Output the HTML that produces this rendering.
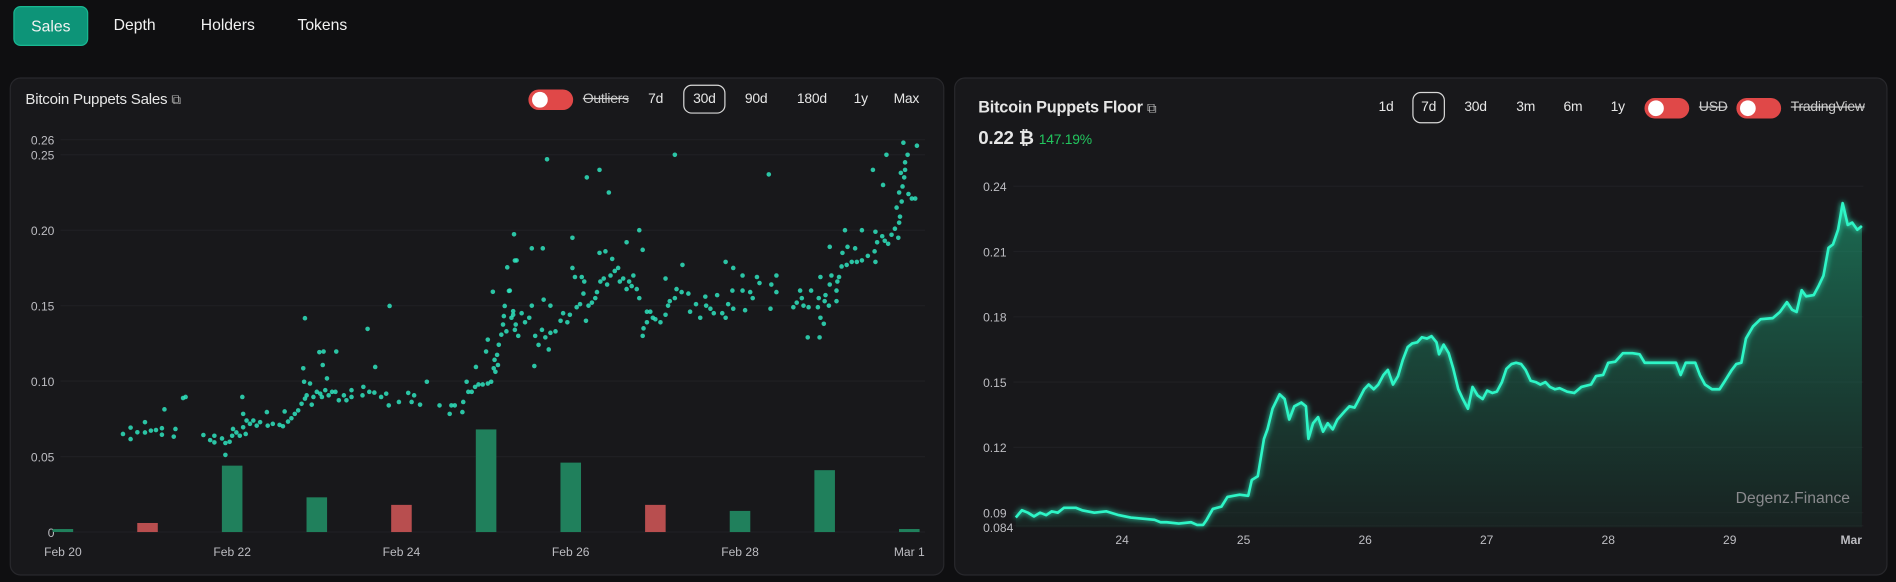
<!DOCTYPE html>
<html><head><meta charset="utf-8">
<style>
html,body{margin:0;padding:0;background:#0f0f11;overflow:hidden;width:1896px;height:582px}
#root{position:absolute;left:0;top:0;width:1568px;height:481px;transform:scale(1.20918);transform-origin:0 0;font-family:"Liberation Sans",sans-serif;color:#e8e8ea}
.abs{position:absolute}
.tab{position:absolute;top:5px;height:31px;line-height:31px;font-size:13px;color:#f2f2f2}
.panel{position:absolute;background:#18181b;border:1px solid #28282c;border-radius:9px}
.ctl{position:absolute;font-size:11.5px;color:#e6e6e6;line-height:20px;letter-spacing:-0.2px}
.toggle{position:absolute;width:37px;height:17px;border-radius:9px;background:#e04848}
.toggle::after{content:"";position:absolute;left:3px;top:2px;width:13px;height:13px;border-radius:50%;background:#fff}
.box{border:1px solid #d8d8d8;border-radius:7px;text-align:center}
svg text{font-family:"Liberation Sans",sans-serif}
</style></head><body>
<div id="root">
  <div class="tab" style="left:11px;width:60px;background:#0d9478;border:1px solid #19b892;border-radius:6px;text-align:center">Sales</div>
  <div class="tab" style="left:94px">Depth</div>
  <div class="tab" style="left:166px">Holders</div>
  <div class="tab" style="left:246px">Tokens</div>

  <div class="panel" style="left:8px;top:64px;width:771px;height:410px"></div>
  <div class="panel" style="left:789px;top:64px;width:770px;height:410px"></div>

  <div class="ctl" style="left:21px;top:72px;font-size:12.5px">Bitcoin Puppets Sales <span style="font-size:11px;color:#bbb">⧉</span></div>
  <div class="toggle" style="left:437px;top:74px"></div>
  <div class="ctl" style="left:482px;top:72px;text-decoration:line-through;color:#ccc">Outliers</div>
  <div class="ctl" style="left:536px;top:72px">7d</div>
  <div class="ctl box" style="left:565px;top:70px;width:33px;height:22px;line-height:22px">30d</div>
  <div class="ctl" style="left:616px;top:72px">90d</div>
  <div class="ctl" style="left:659px;top:72px">180d</div>
  <div class="ctl" style="left:706px;top:72px">1y</div>
  <div class="ctl" style="left:739px;top:72px">Max</div>

  <div class="ctl" style="left:809px;top:79px;font-size:13.5px;font-weight:bold">Bitcoin Puppets Floor <span style="font-size:11px;color:#bbb;font-weight:normal">⧉</span></div>
  <div class="ctl" style="left:809px;top:105px;font-size:15.5px;font-weight:bold">0.22 ₿ <span style="font-size:11.5px;color:#22c55e;font-weight:normal">147.19%</span></div>
  <div class="ctl" style="left:1140px;top:79px">1d</div>
  <div class="ctl box" style="left:1168px;top:76px;width:25px;height:24px;line-height:24px">7d</div>
  <div class="ctl" style="left:1211px;top:79px">30d</div>
  <div class="ctl" style="left:1254px;top:79px">3m</div>
  <div class="ctl" style="left:1293px;top:79px">6m</div>
  <div class="ctl" style="left:1332px;top:79px">1y</div>
  <div class="toggle" style="left:1360px;top:81px"></div>
  <div class="ctl" style="left:1405px;top:79px;text-decoration:line-through;color:#ccc">USD</div>
  <div class="toggle" style="left:1436px;top:81px"></div>
  <div class="ctl" style="left:1481px;top:79px;text-decoration:line-through;color:#ccc">TradingView</div>

  <svg id="chart" class="abs" style="left:0;top:0" width="1568" height="481">
    <defs>
      <linearGradient id="areaGrad" x1="0" y1="0" x2="0" y2="1">
        <stop offset="0" stop-color="#1fbf8a" stop-opacity="0.5"/>
        <stop offset="1" stop-color="#18332b" stop-opacity="0.4"/>
      </linearGradient>
      <filter id="glow"><feGaussianBlur stdDeviation="2.5" result="b"/><feMerge><feMergeNode in="b"/><feMergeNode in="SourceGraphic"/></feMerge></filter>
    </defs>
    <g id="left"></g>
    <g id="right"></g>
    <text x="1530" y="416" text-anchor="end" fill="#8a8a8e" font-size="13">Degenz.Finance</text>
  </svg>
</div>
<script>
// ---- Sales chart data ----
const salesTicks = [0, 0.05, 0.10, 0.15, 0.20, 0.25, 0.26];
const salesTickLabels = ["0", "0.05", "0.10", "0.15", "0.20", "0.25", "0.26"];
const dateLabels = ["Feb 20", "Feb 22", "Feb 24", "Feb 26", "Feb 28", "Mar 1"];
const dateLabelDays = [0, 2, 4, 6, 8, 10];
const barDays = [0,1,2,3,4,5,6,7,8,9,10];
const barValues = [0.002,0.006,0.044,0.023,0.018,0.068,0.046,0.018,0.014,0.041,0.002];
const barUp = [1,0,1,1,0,1,1,0,1,1,1];
const scatterDays = [0.71,0.80,0.80,0.88,0.97,0.97,1.04,1.10,1.17,1.17,1.20,1.31,1.33,1.42,1.45,
1.66,1.74,1.79,1.79,1.88,1.92,1.92,1.97,2.0,2.01,2.05,2.09,2.12,2.13,2.13,2.16,2.17,2.21,2.25,2.29,2.33,2.41,2.42,2.48,
2.56,2.6,2.62,2.66,2.7,2.74,2.78,2.82,2.84,2.85,2.86,2.86,2.88,2.92,2.94,2.96,3.0,3.03,3.04,3.06,3.07,3.08,3.1,3.12,3.14,3.18,3.22,3.23,3.26,3.32,3.35,3.41,3.41,3.55,3.54,3.6,3.62,3.68,3.69,3.76,3.82,3.85,3.86,3.97,4.08,4.12,4.15,4.22,4.3,4.45,4.57,4.59,4.63,4.72,4.73,4.77,4.79,4.83,4.87,4.88,4.91,4.96,5.0,5.02,5.02,5.06,5.08,5.09,5.1,5.11,5.13,5.14,5.15,5.18,5.2,5.21,5.22,5.24,5.25,5.27,5.3,5.32,5.33,5.34,5.35,
5.28,5.36,5.32,5.34,5.38,5.42,5.46,5.51,5.54,5.54,5.57,5.58,5.62,5.66,5.67,5.68,5.7,5.72,5.74,5.76,5.76,5.82,5.88,5.91,5.96,5.99,6.02,6.02,6.05,6.07,6.11,6.13,6.15,6.16,6.18,6.19,6.21,6.25,6.29,6.31,6.34,6.34,6.35,6.39,6.41,6.43,6.45,6.47,6.49,6.52,6.56,6.58,6.62,6.66,6.66,6.69,6.72,6.74,6.78,6.81,6.81,6.85,6.85,6.86,6.9,6.9,6.94,6.97,7.0,7.06,7.12,7.12,7.15,7.17,7.23,7.23,7.25,7.31,7.32,7.39,7.41,7.48,7.53,7.59,7.6,7.65,7.69,7.73,7.79,7.83,7.83,7.86,7.91,7.92,7.92,8.03,8.03,8.06,8.12,8.15,8.2,8.23,8.34,8.36,8.37,8.43,8.43,8.63,8.67,8.71,8.73,8.75,8.8,8.81,8.84,8.92,8.93,8.94,8.95,8.95,8.99,9.0,9.01,9.05,9.06,9.06,9.08,9.14,9.14,9.15,9.17,9.2,9.21,9.24,9.26,9.27,9.32,9.36,9.38,9.44,9.44,9.51,9.57,9.59,9.6,9.6,9.62,9.68,9.69,9.71,9.73,9.75,9.79,9.83,9.85,9.87,9.88,9.88,9.89,9.9,9.91,9.92,9.93,9.94,9.95,9.95,9.98,9.99,10.03,10.07,10.09];
const scatterPrices = [0.065,0.0692,0.0616,0.0661,0.0728,0.066,0.0672,0.0676,0.0688,0.0645,0.0813,0.0632,0.0683,0.0888,0.0895,
0.0643,0.0609,0.0638,0.0594,0.062,0.0511,0.059,0.0598,0.0638,0.0683,0.066,0.0638,0.0895,0.0783,0.0694,0.065,0.0739,0.0717,0.0739,0.0705,0.0728,0.0795,0.0705,0.0717,
0.071,0.0701,0.0799,0.0732,0.0754,0.0783,0.0806,0.085,0.1085,0.0996,0.1417,0.0884,0.0906,0.0984,0.0844,0.0895,0.0929,0.1192,0.0917,0.0895,0.1107,0.1196,0.094,0.1018,0.0906,0.0929,0.0929,0.1196,0.0873,0.0906,0.0873,0.0895,0.094,0.0962,0.0906,0.1346,0.0929,0.0924,0.1094,0.0895,0.0917,0.0839,0.1498,0.0862,0.0922,0.0862,0.0906,0.0844,0.0996,0.0839,0.0783,0.0839,0.0839,0.0795,0.0862,0.0996,0.0929,0.0929,0.0962,0.1094,0.0978,0.0978,0.1196,0.1275,0.0984,0.0996,0.1592,0.1085,0.1141,0.1062,0.1174,0.1107,0.1241,0.1308,0.1375,0.1431,0.1498,0.133,0.1754,0.1598,0.142,0.1464,0.1973,0.1799,0.1375,
0.160,0.180,0.144,0.134,0.130,0.145,0.139,0.142,0.188,0.150,0.110,0.130,0.124,0.134,0.188,0.154,0.129,0.247,0.121,0.150,0.132,0.133,0.140,0.145,0.139,0.144,0.195,0.175,0.169,0.149,0.151,0.169,0.158,0.166,0.140,0.235,0.150,0.152,0.155,0.159,0.185,0.240,0.166,0.168,0.186,0.164,0.225,0.170,0.181,0.173,0.175,0.166,0.168,0.192,0.161,0.166,0.163,0.170,0.161,0.200,0.155,0.187,0.130,0.135,0.146,0.139,0.146,0.142,0.141,0.139,0.144,0.168,0.150,0.153,0.250,0.155,0.161,0.159,0.177,0.158,0.146,0.151,0.142,0.156,0.150,0.148,0.145,0.157,0.145,0.179,0.142,0.151,0.160,0.148,0.175,0.160,0.170,0.147,0.159,0.155,0.169,0.165,0.237,0.148,0.164,0.159,0.170,0.149,0.152,0.160,0.155,0.150,0.129,0.149,0.160,0.149,0.155,0.129,0.142,0.169,0.138,0.153,0.157,0.150,0.189,0.164,0.170,0.153,0.160,0.166,0.169,0.176,0.185,0.200,0.177,0.189,0.179,0.188,0.179,0.200,0.180,0.183,0.240,0.186,0.179,0.199,0.192,0.196,0.230,0.193,0.250,0.191,0.197,0.201,0.215,0.195,0.205,0.225,0.209,0.238,0.219,0.229,0.258,0.235,0.240,0.245,0.250,0.224,0.221,0.221,0.256];

// ---- Floor chart data ----
const floorTicks = [0.084, 0.09, 0.12, 0.15, 0.18, 0.21, 0.24];
const floorTickLabels = ["0.084", "0.09", "0.12", "0.15", "0.18", "0.21", "0.24"];
const floorDayLabels = ["24", "25", "26", "27", "28", "29", "Mar"];
const floorDayHours = [24, 48, 72, 96, 120, 144, 168];
const floorHours = [3.0,4.2,5.4,6.6,7.8,9.0,10.1,11.3,12.5,14.9,16.1,18.5,20.9,23.3,25.7,28.1,30.4,31.6,32.8,35.2,37.6,38.8,40.0,40.7,41.9,43.6,44.8,47.2,48.9,49.6,50.8,52.0,52.7,53.7,55.1,56.1,57.0,58.0,59.4,60.3,60.8,61.7,62.7,63.7,64.6,65.6,66.5,68.0,68.9,69.9,70.8,71.8,72.7,73.7,74.6,75.6,76.5,77.5,78.5,79.4,80.4,81.3,82.3,83.2,84.2,85.1,86.1,86.6,87.5,88.5,89.4,90.4,91.3,92.3,93.2,94.2,95.2,96.1,97.1,98.0,99.0,99.9,100.9,101.8,102.8,103.7,104.7,105.7,106.6,107.6,108.5,109.5,110.4,111.9,113.3,114.7,116.6,117.6,119.0,120.0,121.4,122.9,123.8,124.8,126.2,127.2,131.9,133.4,134.3,135.3,137.2,138.1,139.1,140.5,142.0,142.9,144.4,145.3,146.3,147.2,148.6,150.1,152.5,153.9,155.3,156.3,157.2,158.2,159.1,160.6,161.6,162.5,163.5,164.4,165.4,166.3,167.3,168.2,169.2,170.1];
const floorValues = [0.0878,0.0911,0.09,0.0883,0.09,0.0889,0.0906,0.09,0.0922,0.0922,0.0911,0.09,0.0906,0.0889,0.0878,0.0872,0.0867,0.0856,0.0856,0.085,0.0856,0.0844,0.0844,0.0867,0.0917,0.0928,0.0972,0.0983,0.0978,0.105,0.1067,0.1239,0.1283,0.1378,0.1444,0.1422,0.1328,0.1389,0.1406,0.1389,0.1239,0.1311,0.1339,0.1272,0.1311,0.1283,0.1328,0.1367,0.1389,0.1383,0.1422,0.1467,0.1489,0.1467,0.1489,0.1533,0.1556,0.1489,0.1528,0.16,0.1661,0.1678,0.1683,0.1706,0.17,0.1711,0.1683,0.1628,0.1672,0.1633,0.1561,0.1467,0.1422,0.1378,0.1478,0.1439,0.1422,0.1461,0.145,0.1456,0.15,0.1561,0.1583,0.1589,0.1583,0.1556,0.1506,0.15,0.1489,0.15,0.1478,0.1467,0.1472,0.1456,0.145,0.1478,0.1489,0.1528,0.1533,0.1589,0.1594,0.1633,0.1633,0.1633,0.1628,0.1589,0.1589,0.1589,0.1533,0.1589,0.1589,0.1533,0.1489,0.1467,0.1467,0.15,0.1556,0.1583,0.1589,0.17,0.1756,0.1789,0.1794,0.1822,0.1867,0.1833,0.1822,0.1922,0.1894,0.19,0.1944,0.1989,0.2117,0.2133,0.22,0.2322,0.2222,0.2233,0.22,0.2217];

const NS = "http://www.w3.org/2000/svg";
function mk(tag, attrs, parent){const e=document.createElementNS(NS,tag);for(const k in attrs)e.setAttribute(k,attrs[k]);parent.appendChild(e);return e;}

// axis functions
const xL = d => 52 + d * 70;
const yL = v => 440 - v * 1248;
const xR = h => 827.5 + h / 24 * 100.5;
const yR = v => 424 - (v - 0.09) * 1800;

const L = document.getElementById('left');
salesTicks.forEach((t,i)=>{
  const g = mk('line',{x1:50,x2:765,y1:yL(t),y2:yL(t),stroke:'#1f1f23','stroke-width':1},L);
  
  
  const tx = mk('text',{x:45,y:yL(t)+4,'text-anchor':'end',fill:'#bdbdc2','font-size':10},L);
  tx.textContent = salesTickLabels[i];
  
  
});
dateLabels.forEach((lab,i)=>{
  const tx = mk('text',{x:xL(dateLabelDays[i]),y:460,'text-anchor':'middle',fill:'#bdbdc2','font-size':10},L);
  tx.textContent = lab;
  
  
});
barDays.forEach((d,i)=>{
  const v = barValues[i];
  const r = mk('rect',{x:xL(d)-8.5,y:yL(v),width:17,height:yL(0)-yL(v),fill:barUp[i]?'#20805c':'#b84e4f'},L);
  
  
});
scatterDays.forEach((d,i)=>{
  const c = mk('circle',{cx:xL(d),cy:yL(scatterPrices[i]),r:1.9,fill:'#2fe3bd','fill-opacity':0.85},L);
  
  
});

const R = document.getElementById('right');
floorTicks.forEach((t,i)=>{
  const g = mk('line',{x1:838,x2:1541,y1:yR(t),y2:yR(t),stroke:'#1f1f23','stroke-width':1},R);
  
  
  const tx = mk('text',{x:813,y:yR(t)+(t===0.084?5:4),fill:'#bdbdc2','font-size':10},R);
  tx.textContent = floorTickLabels[i];
  
  
});
floorDayLabels.forEach((lab,i)=>{
  const tx = mk('text',{x:xR(floorDayHours[i]),y:450,'text-anchor':'middle',fill:'#bdbdc2','font-size':10,'font-weight':lab==='Mar'?'bold':'normal'},R);
  tx.textContent = lab;
  
  
});
let pts = floorHours.map((h,i)=>xR(h).toFixed(1)+','+yR(floorValues[i]).toFixed(1));
const bottom = 436;
const area = mk('path',{d:'M'+xR(floorHours[0]).toFixed(1)+','+bottom+' L'+pts.join(' L')+' L'+xR(floorHours[floorHours.length-1]).toFixed(1)+','+bottom+' Z',fill:'url(#areaGrad)'},R);


const line = mk('path',{d:'M'+pts.join(' L'),fill:'none',stroke:'#2ef5c6','stroke-width':2.2,'stroke-linejoin':'round',filter:'url(#glow)'},R);


</script>
</body></html>
